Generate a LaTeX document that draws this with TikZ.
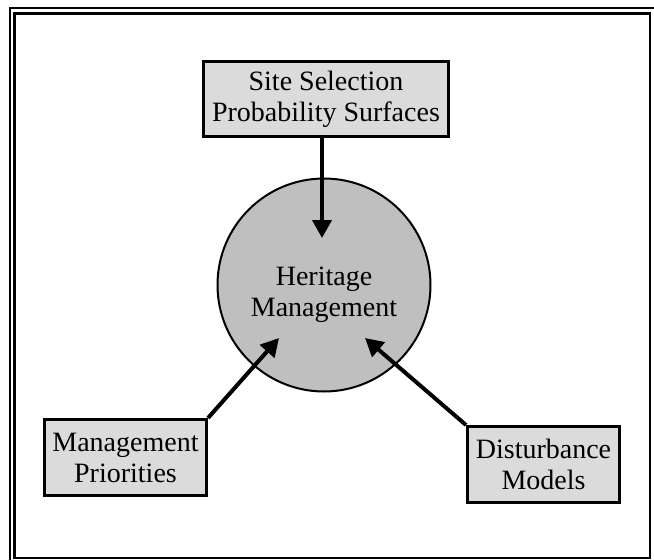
\documentclass[tikz,border=0pt]{standalone}
\usepackage{fontspec}
\setmainfont{Liberation Serif}
\usetikzlibrary{arrows.meta}
\definecolor{boxgray}{gray}{0.86}
\definecolor{hubgray}{gray}{0.75}

\begin{document}
\begin{tikzpicture}[x=1pt,y=-1pt,
    box/.style={draw,line width=3pt,fill=boxgray,align=center,inner sep=0pt,
      font=\fontsize{28}{31}\selectfont},
    hub/.style={draw,circle,line width=2pt,fill=hubgray,minimum size=213pt,inner sep=0pt},
    >={Triangle[length=18pt,width=19pt]},
    link/.style={line width=4pt,->},
    frame/.style={line width=2.3pt}]
  \useasboundingbox (0,0) rectangle (654,560);

  % frame
  \draw[frame] (10.2,560) -- (10.2,8.3) -- (654,8.3);
  \draw[frame] (14.5,13.5) rectangle (650.3,557.8);

  \node[hub] (hm) at (324,285) {};
  \node[align=center,font=\fontsize{28}{31}\selectfont] (hmtext) at (324,295) {Heritage\\Management};

  \node[box,minimum width=245pt,minimum height=75pt] (site) at (326,99) {Site Selection\\Probability Surfaces};
  \node[box,minimum width=162pt,minimum height=76pt] (prio) at (125.5,457.5) {Management\\Priorities};
  \node[box,minimum width=152pt,minimum height=76pt] (dist) at (543.5,464.5) {Disturbance\\Models};

  \coordinate (inS) at (322,238);
  \coordinate (inP) at (279,338);
  \coordinate (inD) at (365,338);

  \draw[link] (site.south -| inS) -- (inS);
  \draw[link] (prio.north east) -- (inP);
  \draw[link] (dist.north west) -- (inD);
\end{tikzpicture}
\end{document}
